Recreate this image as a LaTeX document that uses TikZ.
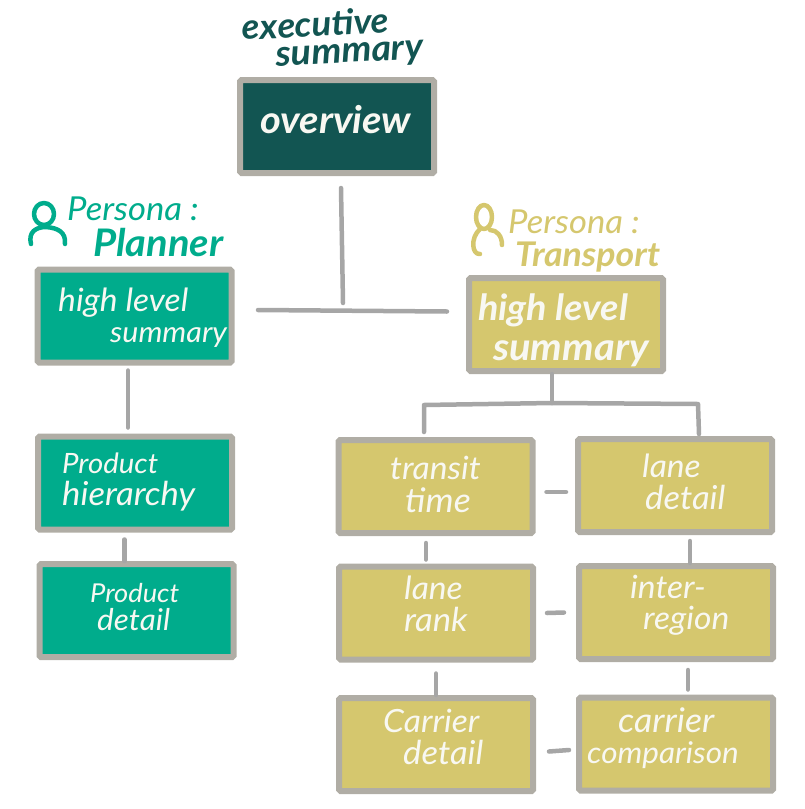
\documentclass[tikz,border=0pt]{standalone}
\usepackage{fontspec}
\newfontfamily\hand[FakeStretch=1.05]{Lato}
\newcommand\fs[1]{\fontsize{#1}{32pt}\selectfont}
\definecolor{dark}{HTML}{125552}
\definecolor{teal}{HTML}{00AC8C}
\definecolor{sand}{HTML}{D5C76E}
\definecolor{edge}{HTML}{B0ADA5}
\definecolor{wire}{HTML}{A6A6A6}
\definecolor{snow}{HTML}{F8F8F2}
\tikzset{
  box/.style={draw=edge,line width=6pt,rounded corners=1.5pt,inner sep=0pt,minimum width=194pt,minimum height=93pt},
  darkbox/.style={box,fill=dark},
  tealbox/.style={box,fill=teal},
  sandbox/.style={box,fill=sand},
  conn/.style={draw=wire,line width=4.5pt,line cap=round,line join=round},
  txt/.style={inner sep=0pt,anchor=west,align=left,text=snow,font=\hand\itshape},
  txtb/.style={inner sep=0pt,anchor=west,align=left,text=snow,font=\hand\bfseries\itshape},
  persona/.style={line width=4.5pt,line cap=round,line join=round}
}
\begin{document}
\begin{tikzpicture}[x=1pt,y=-1pt]
\useasboundingbox (0,0) rectangle (804,809);
% boxes
\node[darkbox] (overview) at (337,126.5) {};
\node[tealbox] (phigh) at (134.5,316) {};
\node[sandbox] (thigh) at (566,324.5) {};
\node[tealbox] (phier) at (135,483) {};
\node[tealbox] (pdet) at (136.5,610.5) {};
\node[sandbox] (transit) at (435.5,486.5) {};
\node[sandbox] (lane) at (675,485.5) {};
\node[sandbox] (rank) at (436,613) {};
\node[sandbox] (inter) at (676,612.5) {};
\node[sandbox] (cdet) at (436,744.5) {};
\node[sandbox] (ccomp) at (676,744) {};
% connectors
\coordinate (hl) at (258,310);
\coordinate (hr) at (447,311.5);
\coordinate (htop) at (341,188);
\coordinate (hjoin) at (343,303);
\coordinate (tb) at (552,403);
\coordinate (tl) at (424,405);
\coordinate (tr) at (698,404);
\draw[conn] (hl) -- (hr);
\draw[conn] (htop) -- (hjoin);
\draw[conn] ([xshift=-6.5pt,yshift=-5pt]phigh.south) -- ([xshift=-7pt,yshift=6pt]phier.north);
\draw[conn] ([xshift=-10.5pt,yshift=-7pt]phier.south) -- ([xshift=-12pt]pdet.north);
\draw[conn] ([xshift=-14pt]thigh.south) -- (tb);
\draw[conn] ([xshift=-11.5pt,yshift=5pt]transit.north) -- (tl) -- (tb) -- (tr) -- ([xshift=24pt,yshift=2pt]lane.north);
\draw[conn] ([yshift=-5.5pt,xshift=11pt]transit.east) -- ([yshift=-6.5pt,xshift=-9pt]lane.west);
\draw[conn] ([xshift=-9.5pt,yshift=-7pt]transit.south) -- ([xshift=-10pt,yshift=4pt]rank.north);
\draw[conn] ([xshift=15pt,yshift=-6pt]lane.south) -- ([xshift=14pt]inter.north);
\draw[conn] ([yshift=0pt,xshift=11pt]rank.east) -- ([yshift=0pt,xshift=-12pt]inter.west);
\draw[conn] ([yshift=-11pt]rank.south) -- ([yshift=0pt]cdet.north);
\draw[conn] ([xshift=12pt,yshift=-8pt]inter.south) -- ([xshift=12pt,yshift=5pt]ccomp.north);
\draw[conn] ([yshift=-7pt,xshift=13pt]cdet.east) -- ([yshift=-6pt,xshift=-7pt]ccomp.west);
% headings
\node[txtb,text=dark,rotate=3] (exec) at (243,44) {\fs{35}executive\\[8pt]\hspace*{32pt}\fs{36}summary};
\node[txtb,text=snow] (tover) at (260,120) {\fs{38}overview};
\node[txt,text=teal] (pp) at (67,227) {\fs{33}Persona :\\[6pt]\hspace*{26pt}\bfseries\fs{38}Planner};
\node[txt,text=sand] (tp) at (508,241) {\fs{33}Persona :\\[8pt]\hspace*{7pt}\bfseries\fs{34}Transport};
% box texts
\node[txt] (t1) at (58,318) {\fs{32}high level\\[9pt]\hspace*{52pt}\fs{29}summary};
\node[txtb] (t2) at (478,330) {\fs{36}high level\\[13pt]\hspace*{15pt}\fs{38}summary};
\node[txt] (t3) at (62,482) {\fs{28}Product\\[7pt]\fs{33}hierarchy};
\node[txt] (t4) at (90,607) {\fs{26}Product\\[5pt]\hspace*{7pt}\fs{30}detail};
\node[txt] (t5) at (390,484) {\fs{32}transit\\[7pt]\hspace*{15pt}\fs{34}time};
\node[txt] (t6) at (642,482) {\fs{32}lane\\[7pt]\hspace*{3pt}\fs{33}detail};
\node[txt] (t7) at (404,604) {\fs{32}lane\\[6pt]\fs{33}rank};
\node[txt] (t8) at (630,605) {\fs{32}inter-\\[6pt]\hspace*{13pt}\fs{32}region};
\node[txt] (t9) at (383,737) {\fs{32}Carrier\\[7pt]\hspace*{20pt}\fs{33}detail};
\node[txt] (t10) at (587,738) {\hspace*{31pt}\fs{34}carrier\\[8pt]\fs{30}comparison};
% persona icons
\draw[persona,teal] (44,214) ellipse (10pt and 11pt);
\draw[persona,teal] (31,244) .. controls (28,232) and (36,227) .. (46,227) .. controls (58,228) and (66,232) .. (65,244);
\draw[persona,sand] (484,217) ellipse (8pt and 12pt);
\draw[persona,sand] (480,229) .. controls (470,238) and (472,255) .. (480,254);
\draw[persona,sand] (490,230) .. controls (497,230) and (502,236) .. (502,245);
\end{tikzpicture}
\end{document}
